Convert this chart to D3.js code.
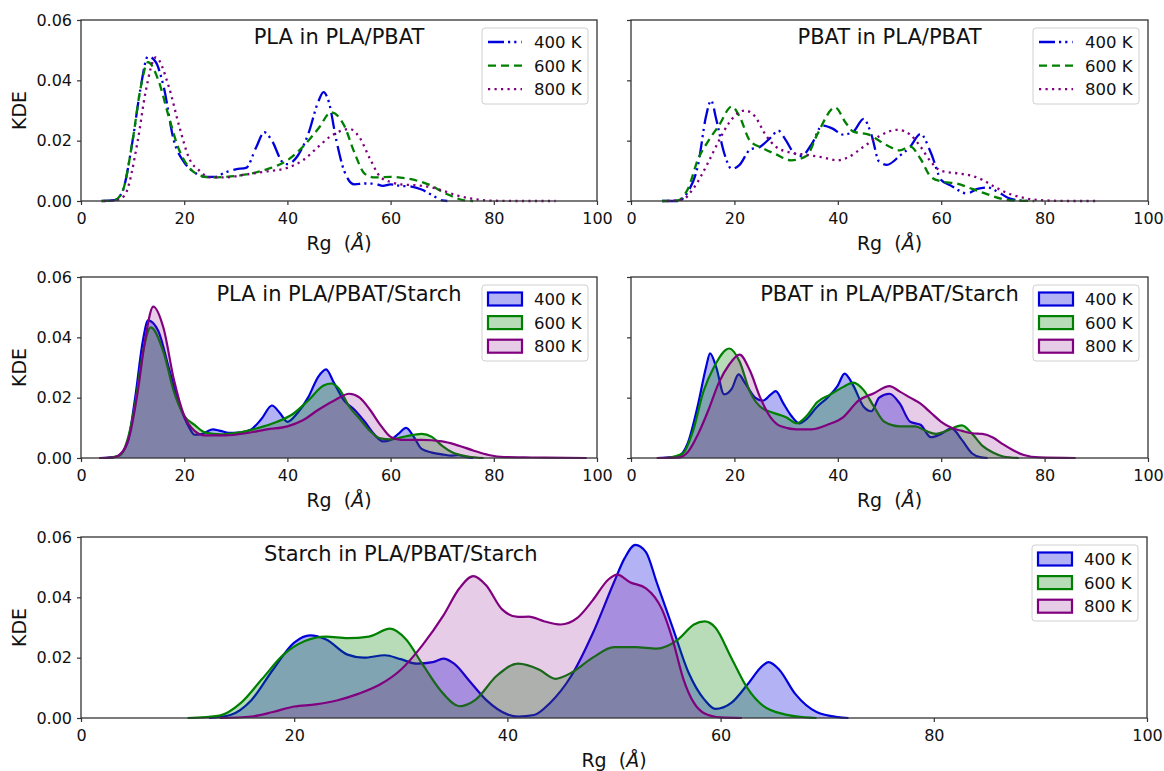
<!DOCTYPE html>
<html><head><meta charset="utf-8">
<script src="https://cdn.jsdelivr.net/npm/d3@7/dist/d3.min.js"></script>
<style>
body{margin:0;background:#fff}
svg{display:block}
text{font-family:'DejaVu Sans',sans-serif;fill:#111}
</style>
</head><body>
<svg id="chart" width="1164" height="771"></svg>
<script>
// ---------- data ----------
const xTicks = [0, 20, 40, 60, 80, 100];
const yTicks = [0, 0.02, 0.04, 0.06];
const yTickLabels = ["0.00", "0.02", "0.04", "0.06"];
const tempLabels = ["400 K", "600 K", "800 K"];
const panelTitles = ["PLA in PLA/PBAT", "PBAT in PLA/PBAT", "PLA in PLA/PBAT/Starch", "PBAT in PLA/PBAT/Starch", "Starch in PLA/PBAT/Starch"];
const xLabel = "Rg";
const yLabel = "KDE";

// PLA in PLA/PBAT
const plaBlend400 = [[4,0],[6.5,0.0003],[8,0.003],[10,0.02],[11.5,0.037],[13,0.048],[14.5,0.046],[16,0.038],[18,0.02],[20,0.0128],[22,0.0095],[24,0.008],[26,0.008],[28,0.0095],[30,0.0105],[32,0.011],[34,0.018],[35.5,0.0228],[37,0.02],[39,0.013],[40,0.0122],[42,0.015],[44,0.022],[46,0.033],[47,0.0361],[48,0.033],[49.5,0.02],[51,0.01],[53,0.0055],[55,0.0058],[57,0.0057],[58.5,0.005],[60,0.0055],[62,0.005],[64,0.0048],[66,0.0038],[68,0.002],[70,0.0002],[71,0]];
const plaBlend600 = [[4,0],[6.5,0.0003],[8,0.003],[10,0.02],[11.5,0.037],[13,0.046],[15,0.04],[17,0.028],[19,0.017],[21,0.011],[23,0.0085],[25,0.0078],[28,0.008],[32,0.0088],[36,0.0105],[40,0.0135],[43,0.018],[46,0.024],[48.5,0.0294],[51,0.025],[53,0.016],[55,0.009],[57,0.0078],[60,0.008],[63,0.0075],[66,0.0063],[68,0.005],[70,0.003],[72,0.0015],[74,0.0003],[76,0]];
const plaBlend800 = [[4.5,0],[7,0.0003],[8.5,0.002],[11,0.02],[12.5,0.036],[14.5,0.0476],[17,0.038],[19,0.025],[21,0.014],[23,0.01],[25,0.0078],[28,0.0078],[32,0.0088],[36,0.0098],[40,0.011],[43,0.0135],[46,0.018],[48,0.021],[50,0.023],[52,0.0239],[54,0.021],[56,0.014],[58,0.008],[60,0.0063],[62,0.0055],[65,0.0052],[68,0.0045],[70,0.0035],[73,0.0018],[76,0.0007],[80,0.0001],[85,0],[92,0]];

// PBAT in PLA/PBAT
const pbatBlend400 = [[6,0],[9,0],[11,0.003],[13,0.0122],[14.5,0.028],[15.5,0.0333],[16.5,0.027],[18,0.016],[19.5,0.0106],[21,0.012],[23,0.017],[25,0.018],[27,0.021],[28.5,0.0233],[30,0.02],[31.5,0.016],[33,0.015],[35,0.019],[37,0.025],[39,0.024],[41,0.022],[43,0.023],[45,0.0272],[46.5,0.022],[48,0.013],[49.5,0.012],[52,0.015],[54,0.018],[56,0.0222],[58,0.016],[60,0.007],[62,0.005],[65,0.0025],[67,0.004],[69,0.0045],[71,0.003],[73,0.001],[75,0.0002],[77,0]];
const pbatBlend600 = [[6,0],[9,0.0002],[11,0.004],[13,0.014],[15,0.02],[17,0.025],[19.5,0.0313],[21,0.028],[23,0.02],[25.5,0.0175],[28,0.0155],[31,0.0135],[34,0.015],[36,0.022],[39.5,0.031],[41.5,0.026],[43,0.023],[46,0.022],[48,0.02],[50,0.018],[52,0.0168],[54,0.018],[56,0.014],[58,0.008],[60,0.0065],[63,0.0058],[66,0.004],[69,0.0022],[72,0.0006],[75,0.0001],[78,0]];
const pbatBlend800 = [[7,0],[10,0.0005],[12,0.004],[15,0.013],[17,0.02],[19,0.026],[22,0.03],[24,0.028],[26,0.022],[28,0.018],[31,0.016],[34,0.0153],[37,0.0145],[40,0.0135],[42,0.0145],[45,0.018],[48,0.0215],[51.5,0.0236],[54,0.022],[56,0.018],[58,0.013],[60,0.01],[63,0.0092],[66,0.0083],[68,0.007],[70,0.005],[73,0.0025],[76,0.001],[80,0.0002],[85,0],[90,0]];

// PLA in PLA/PBAT/Starch
const plaStarch400 = [[4,0],[7,0.0005],[9,0.005],[10.5,0.02],[12,0.039],[13,0.0456],[15,0.042],[17,0.03],[19,0.018],[21,0.01],[22,0.0077],[23.5,0.008],[25.5,0.0095],[27,0.009],[29,0.0083],[31,0.0085],[33,0.0095],[35,0.013],[37,0.0174],[38.5,0.015],[40,0.012],[42,0.015],[44,0.02],[46,0.027],[47.5,0.0294],[49,0.025],[51,0.019],[53,0.016],[55,0.012],[57,0.0075],[58.5,0.0055],[60,0.006],[61.5,0.008],[63,0.01],[64.5,0.007],[66,0.003],[68,0.0018],[70,0.0012],[72,0.0008],[73,0.001],[75,0.0002],[76,0]];
const plaStarch600 = [[5,0],[7.5,0.0008],[9,0.006],[10.5,0.018],[12,0.035],[13.5,0.0433],[16,0.035],[18,0.022],[20,0.014],[22,0.011],[24,0.0085],[27,0.0078],[30,0.0083],[34,0.0098],[38,0.012],[41,0.0145],[44,0.019],[47,0.024],[48.5,0.0247],[50,0.023],[52,0.017],[54,0.013],[56,0.009],[58,0.0065],[60,0.0062],[63,0.0072],[66,0.008],[68,0.007],[70,0.004],[72,0.0018],[75,0.0005],[78,0]];
const plaStarch800 = [[3.5,0],[6,0.0001],[8,0.002],[9.5,0.008],[11,0.022],[12.5,0.04],[14,0.0502],[16,0.043],[18,0.026],[20,0.014],[22,0.009],[24,0.0075],[28,0.0075],[32,0.0082],[36,0.0095],[40,0.0105],[43,0.0125],[46,0.016],[49,0.019],[52,0.0213],[54,0.02],[56,0.016],[58,0.011],[60,0.007],[62,0.006],[66,0.006],[70,0.0055],[73,0.0042],[76,0.0025],[79,0.001],[82,0.0003],[86,0.0002],[90,0.0001],[98,0]];

// PBAT in PLA/PBAT/Starch
const pbatStarch400 = [[5,0],[9,0.0005],[11,0.005],[13,0.018],[14.5,0.03],[15.3,0.0347],[16.5,0.03],[18,0.0211],[19.5,0.023],[20.8,0.0277],[22,0.025],[24,0.02],[25.5,0.019],[27,0.021],[28,0.0222],[29.5,0.018],[31,0.014],[32.5,0.0115],[34,0.013],[36,0.017],[38,0.02],[40,0.024],[41.3,0.028],[43,0.024],[45,0.017],[46.5,0.0155],[48,0.02],[50,0.0213],[52,0.018],[54,0.012],[56,0.011],[58,0.0069],[60,0.008],[62,0.0098],[64,0.006],[66,0.0015],[67.5,0.0003],[69,0]];
const pbatStarch600 = [[7,0],[10,0.0015],[12,0.009],[14,0.022],[16,0.03],[19,0.0363],[21,0.032],[23,0.022],[25,0.017],[27.5,0.015],[30,0.0135],[32,0.0115],[34,0.014],[36,0.0185],[38.5,0.021],[41,0.0235],[43,0.025],[45,0.0225],[47,0.017],[49,0.012],[52,0.0105],[55,0.0105],[57,0.009],[59,0.008],[61,0.009],[64,0.0108],[66,0.008],[68,0.004],[70,0.0018],[72,0.0005],[75,0]];
const pbatStarch800 = [[5,0],[9,0.0001],[11,0.002],[13,0.008],[15,0.016],[17,0.025],[19,0.031],[21,0.0343],[23,0.029],[25,0.02],[27,0.0135],[29,0.0105],[32,0.0095],[35,0.0095],[38,0.011],[41,0.0135],[44,0.019],[47,0.0215],[50,0.0238],[52,0.022],[54,0.02],[56,0.018],[58,0.015],[60,0.012],[62,0.01],[64,0.009],[66,0.0082],[68,0.008],[70,0.0068],[72,0.0045],[74,0.0025],[76,0.001],[79,0.0002],[86,0]];

// Starch in PLA/PBAT/Starch
const starch400 = [[12,0],[14,0.001],[16,0.006],[18,0.016],[20,0.025],[21.5,0.0274],[23,0.026],[25,0.021],[26.5,0.02],[28.5,0.0208],[30,0.0195],[31.5,0.018],[33,0.0185],[34,0.0197],[35,0.018],[36.5,0.012],[38,0.006],[40,0.0012],[41,0.0005],[42.5,0.001],[44,0.005],[46,0.014],[48,0.028],[50,0.045],[51,0.053],[52,0.0574],[53,0.055],[54,0.045],[55.5,0.03],[57,0.015],[58.5,0.006],[59.5,0.003],[61,0.005],[62.5,0.011],[64,0.0175],[64.5,0.0185],[65.5,0.016],[67,0.008],[69,0.002],[71,0.0003],[72,0]];
const starch600 = [[10,0],[13,0.0008],[15,0.005],[17,0.013],[19,0.021],[21,0.0255],[23,0.027],[25,0.0265],[27,0.027],[29,0.0296],[30.5,0.026],[32,0.018],[34,0.008],[35.5,0.0039],[37,0.006],[39,0.014],[41,0.018],[43,0.016],[44.5,0.013],[46,0.015],[48,0.02],[50,0.0235],[52,0.0235],[54,0.023],[56,0.026],[57.5,0.031],[58.5,0.032],[59.5,0.03],[61,0.02],[62.5,0.01],[64,0.004],[66,0.0012],[68,0.0002],[69,0]];
const starch800 = [[13,0],[16,0.0005],[18,0.002],[20,0.0038],[22,0.0045],[24,0.0058],[26,0.008],[28,0.011],[30,0.016],[32,0.024],[34,0.034],[35.5,0.043],[36.8,0.047],[38,0.044],[39.5,0.036],[41,0.0335],[42,0.0336],[43.5,0.032],[45,0.031],[46.5,0.033],[48,0.039],[49.5,0.046],[50.3,0.0475],[51.5,0.045],[53,0.043],[54.5,0.036],[55.5,0.026],[56.5,0.013],[57.5,0.005],[58.5,0.0015],[60,0.0002],[62,0]];

// ---------- styles / layout ----------
const seriesColors = ["#0000dd", "#008000", "#800080"];
const dashes = ["16,4,2.2,4,2.2,5", "8,5", "2.2,4.3"];
const fillAlphas = [0.3, 0.28, 0.2];

const panels = [
  {l:81,  r:597,  t:20,  b:201, title:panelTitles[0], tx:0.5, data:[plaBlend400, plaBlend600, plaBlend800], fill:false, ylab:true},
  {l:631, r:1148, t:20,  b:201, title:panelTitles[1], tx:0.5, data:[pbatBlend400, pbatBlend600, pbatBlend800], fill:false, ylab:false},
  {l:81,  r:597,  t:277, b:458, title:panelTitles[2], tx:0.5, data:[plaStarch400, plaStarch600, plaStarch800], fill:true, ylab:true},
  {l:631, r:1148, t:277, b:458, title:panelTitles[3], tx:0.5, data:[pbatStarch400, pbatStarch600, pbatStarch800], fill:true, ylab:false},
  {l:81,  r:1147, t:537, b:718, title:panelTitles[4], tx:0.3, data:[starch400, starch600, starch800], fill:true, ylab:true}
];

const svg = d3.select("#chart");
const axisColor = "#333";

panels.forEach(p => {
  const x = d3.scaleLinear().domain([0, 100]).range([p.l, p.r]);
  const y = d3.scaleLinear().domain([0, 0.06]).range([p.b, p.t]);
  const g = svg.append("g");

  const line = d3.line().x(d => x(d[0])).y(d => y(d[1])).curve(d3.curveMonotoneX);
  const area = d3.area().x(d => x(d[0])).y0(y(0)).y1(d => y(d[1])).curve(d3.curveMonotoneX);

  p.data.forEach((s, i) => {
    if (p.fill) {
      g.append("path").attr("d", area(s)).attr("fill", seriesColors[i]).attr("fill-opacity", fillAlphas[i]).attr("stroke", "none");
      g.append("path").attr("d", line(s)).attr("fill", "none").attr("stroke", seriesColors[i]).attr("stroke-width", 2.2).attr("stroke-linejoin", "round");
    } else {
      g.append("path").attr("d", line(s)).attr("fill", "none").attr("stroke", seriesColors[i]).attr("stroke-width", 2.3).attr("stroke-dasharray", dashes[i]);
    }
  });

  // axes
  const xAxis = d3.axisBottom(x).tickValues(xTicks).tickSize(4).tickPadding(8).tickFormat(d3.format("d"));
  const xg = g.append("g").attr("transform", `translate(0,${p.b})`).call(xAxis);
  const yAxis = d3.axisLeft(y).tickValues(yTicks).tickSize(4).tickPadding(5)
      .tickFormat((d, i) => p.ylab ? yTickLabels[i] : "");
  const yg = g.append("g").attr("transform", `translate(${p.l},0)`).call(yAxis);
  [xg, yg].forEach(a => {
    a.select(".domain").remove();
    a.selectAll(".tick line").attr("stroke", axisColor).attr("stroke-width", 1.2);
    a.selectAll(".tick text").attr("font-size", 16).attr("font-family", "'DejaVu Sans',sans-serif").attr("fill", "#111");
  });

  // spines
  g.append("rect").attr("x", p.l).attr("y", p.t).attr("width", p.r - p.l).attr("height", p.b - p.t)
    .attr("fill", "none").attr("stroke", axisColor).attr("stroke-width", 1.3);

  // panel title
  g.append("text").attr("x", p.l + (p.r - p.l) * p.tx).attr("y", p.t + 23.5)
    .attr("text-anchor", "middle").attr("font-size", 21).text(p.title);

  // x label
  const xl = g.append("text").attr("x", (p.l + p.r) / 2).attr("y", p.b + 49)
    .attr("text-anchor", "middle").attr("font-size", 19).style("white-space", "pre");
  xl.append("tspan").text(xLabel + "  (");
  xl.append("tspan").attr("font-style", "italic").text("Å");
  xl.append("tspan").text(")");

  if (p.ylab) {
    g.append("text").attr("transform", `translate(26,${(p.t + p.b) / 2}) rotate(-90)`)
      .attr("text-anchor", "middle").attr("font-size", 19).text(yLabel);
  }

  // legend
  const lw = 106, lh = 76;
  const lx = p.r - 9 - lw, ly = p.t + 8;
  const lg = g.append("g");
  lg.append("rect").attr("x", lx).attr("y", ly).attr("width", lw).attr("height", lh).attr("rx", 3)
    .attr("fill", "#fff").attr("fill-opacity", 0.85).attr("stroke", "#d0d0d0").attr("stroke-width", 1);
  tempLabels.forEach((t, i) => {
    const cy = ly + 14 + i * 23.6;
    if (p.fill) {
      lg.append("rect").attr("x", lx + 6).attr("y", cy - 6.5).attr("width", 34).attr("height", 13)
        .attr("fill", seriesColors[i]).attr("fill-opacity", fillAlphas[i])
        .attr("stroke", seriesColors[i]).attr("stroke-width", 2.2);
    } else {
      lg.append("line").attr("x1", lx + 6).attr("x2", lx + 40).attr("y1", cy).attr("y2", cy)
        .attr("stroke", seriesColors[i]).attr("stroke-width", 2.3).attr("stroke-dasharray", dashes[i]);
    }
    lg.append("text").attr("x", lx + 52).attr("y", cy).attr("dy", "0.36em")
      .attr("font-size", 16.5).text(t);
  });
});
</script>
</body></html>
